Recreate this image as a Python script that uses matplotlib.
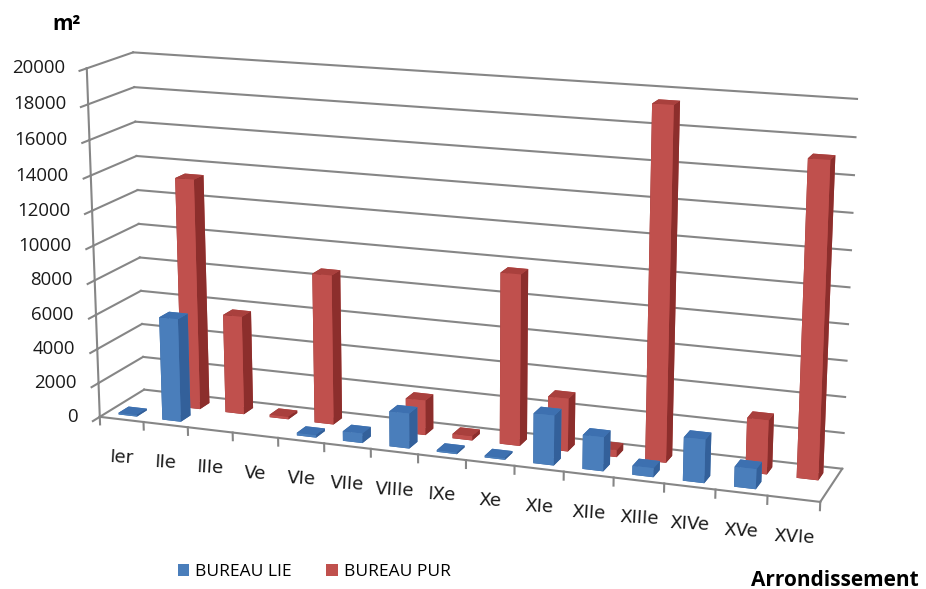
import numpy as np
import matplotlib.pyplot as plt
from matplotlib.patches import Patch

# surfaces de bureaux par arrondissement (m²)
arrondissements = ['Ier', 'IIe', 'IIIe', 'Ve', 'VIe', 'VIIe', 'VIIIe', 'IXe',
                   'Xe', 'XIe', 'XIIe', 'XIIIe', 'XIVe', 'XVe', 'XVIe']
bureau_lie = [100, 6000, 0, 0, 150, 550, 2000, 100, 100, 2800, 1900, 500, 2400, 1100, 0]
bureau_pur = [0, 13450, 5750, 150, 8650, 0, 2000, 250, 9700, 3000, 400, 19500, 0, 3000, 17200]
series_names = ['BUREAU LIE', 'BUREAU PUR']
z_ticks = list(range(0, 20001, 2000))

# couleurs : face avant, dessus, côté
blue = ('#4a7ebb', '#3d70b0', '#33609a')
red = ('#c0504d', '#a9403d', '#8c2e2c')
grid_col = '#868686'

n = len(arrondissements)
depth = 2.0
rows = [0.5, 1.4]
bar_w = 0.42
bar_d = 0.45

fig = plt.figure(figsize=(9.26, 5.89), dpi=100)
ax = fig.add_axes([-0.003, -0.236, 0.972, 1.528], projection='3d', computed_zorder=False)
ax.set_proj_type('persp', focal_length=0.52)
ax.view_init(elev=14.5, azim=-70)
ax.set_box_aspect((15, depth, 7.25), zoom=0.925)
ax.set_xlim(0, n)
ax.set_ylim(0, depth)
ax.set_zlim(0, 20000)
ax.set_axis_off()

# murs : quadrillage du fond et du côté gauche
for v in z_ticks:
    ax.plot([0, n], [depth, depth], [v, v], color=grid_col, lw=1.5, zorder=1)
    ax.plot([0, 0], [0, depth], [v, v], color=grid_col, lw=1.5, zorder=1)
    ax.plot([0, 0], [0, -0.3], [v, v], color=grid_col, lw=1.5, zorder=1)
ax.plot([0, 0], [0, 0], [0, 20000], color=grid_col, lw=1.5, zorder=1)

# sol
ax.plot([0, n], [0, 0], [0, 0], color=grid_col, lw=1.5, zorder=1)
ax.plot([n, n], [0, depth], [0, 0], color=grid_col, lw=1.5, zorder=1)
for i in range(n + 1):
    ax.plot([i, i], [0, 0], [0, -450], color=grid_col, lw=1.5, zorder=1)


def draw_bars(values, row, cols, z):
    vals = np.array(values, dtype=float)
    idx = np.nonzero(vals > 0)[0]
    xs = idx + 0.5 - bar_w / 2
    ys = np.full(len(idx), row) - bar_d / 2
    front, top, side = cols
    # ordre des faces de bar3d : -z, +z, -y, +y, -x, +x
    face_cols = [side, top, front, front, side, side] * len(idx)
    ax.bar3d(xs, ys, np.zeros(len(idx)), bar_w, bar_d, vals[idx],
             color=face_cols, shade=False, linewidth=0, zorder=z)


draw_bars(bureau_pur, rows[1], red, 2)
draw_bars(bureau_lie, rows[0], blue, 3)

M = ax.get_proj()


def project(x, y, z):
    v = M @ np.array([x, y, z, 1.0])
    return v[0] / v[3], v[1] / v[3]


for v in z_ticks:
    ax.annotate(str(v), xy=project(0, 0, v), xytext=(-22, 0), textcoords='offset pixels',
                ha='right', va='center', fontsize=13.4, family='Open Sans',
                color='#1a1a1a', annotation_clip=False)

for i, lab in enumerate(arrondissements):
    ax.annotate(lab, xy=project(i + 0.5, 0, 0), xytext=(0, -38), textcoords='offset pixels',
                ha='center', va='center', fontsize=13, family='DejaVu Sans', rotation=-3,
                color='#1a1a1a', annotation_clip=False)

fig.text(67 / 926, 1 - 25 / 589, 'm²', ha='center', va='center', fontsize=15,
         fontweight='bold', family='Open Sans')
fig.text(835 / 926, 1 - 580 / 589, 'Arrondissement', ha='center', va='center',
         fontsize=15, fontweight='bold', family='Open Sans')

handles = [Patch(facecolor=blue[0], edgecolor='none'), Patch(facecolor=red[0], edgecolor='none')]
fig.legend(handles, series_names, loc='center', bbox_to_anchor=(314 / 926, 1 - 572 / 589),
           ncol=2, frameon=False, prop={'family': 'Open Sans', 'size': 12.5},
           handlelength=0.65, handleheight=0.65, handletextpad=0.35, columnspacing=2.0)

fig.savefig('out.png', dpi=100)
